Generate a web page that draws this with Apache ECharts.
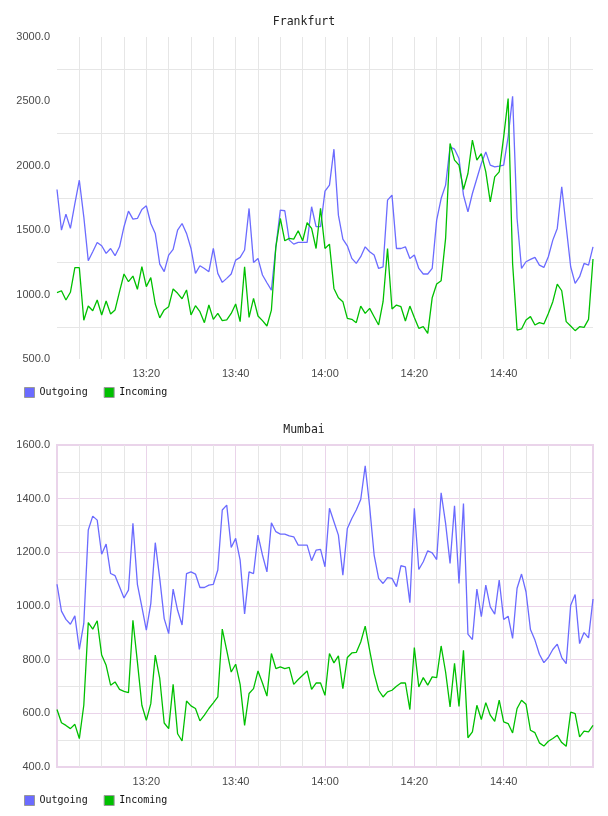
<!DOCTYPE html>
<html>
<head>
<meta charset="utf-8">
<script src="https://cdn.jsdelivr.net/npm/echarts@6/dist/echarts.min.js"></script>
<style>
html,body{margin:0;padding:0;background:#fff;}
#chart{width:608px;height:816px;}
</style>
</head>
<body>
<div id="chart"></div>
<script>
// Minutes after 13:00, one sample per minute
const minuteTicks = [20, 40, 60, 80, 100];
const tickLabels = ['13:20', '13:40', '14:00', '14:20', '14:40'];
const seriesNames = ['Outgoing', 'Incoming'];
const chartTitles = ['Frankfurt', 'Mumbai'];

const frankfurtOutgoing = [1816,1500,1625,1514,1707,1888,1604,1263,1333,1405,1379,1320,1358,1302,1371,1527,1648,1586,1591,1661,1689,1552,1475,1237,1178,1307,1351,1500,1552,1475,1358,1165,1224,1203,1178,
  1358,1165,1095,1126,1160,1268,1289,1346,1669,1250,1281,1152,1092,1035,1371,1656,1651,1423,1392,1405,1405,1405,1682,1527,1527,1803,1850,2129,1617,1431,1379,1281,1242,1294,1371,1333,1307,1203,1216,1733,1772,1358,
  1358,1371,1281,1307,1203,1160,1160,1203,1578,1746,1850,2147,2129,2056,1772,1643,1785,1901,2018,2108,2005,1992,1997,2005,2225,2540,1591,1203,1255,1273,1289,1229,1211,1294,1423,1514,1837,1527,1216,1087,1139,1242,1229,1371];
const frankfurtIncoming = [1015,1030,958,1018,1209,1209,801,911,875,958,842,950,850,881,1023,1160,1100,1144,1041,1217,1062,1132,927,819,881,906,1044,1010,968,1036,842,914,867,782,919,
  808,854,798,803,854,927,790,1216,823,971,834,798,756,880,1371,1591,1418,1436,1431,1496,1418,1558,1514,1358,1669,1358,1392,1048,976,945,816,808,782,911,854,893,828,764,945,1358,888,919,
  906,795,911,823,738,751,699,976,1082,1108,1436,2173,2044,2005,1816,1940,2199,2044,2095,1953,1720,1914,1953,2225,2522,1242,725,733,803,829,764,782,772,854,945,1082,1030,790,756,720,751,746,808,1276];
const mumbaiOutgoing = [1081,981,950,932,963,838,935,1283,1335,1320,1193,1231,1121,1113,1072,1030,1059,1308,1081,997,910,1009,1236,1103,953,897,1063,984,929,1121,1127,1119,1069,1069,1078,
  1081,1134,1358,1376,1218,1252,1171,970,1127,1121,1264,1190,1127,1310,1277,1268,1268,1261,1258,1227,1227,1227,1169,1208,1211,1146,1364,1314,1264,1115,1289,1326,1358,1397,1522,1370,1190,1103,1084,1106,1103,1072,1150,1146,1012,
  1364,1136,1165,1206,1198,1173,1422,1308,1159,1373,1084,1382,895,875,1063,960,1078,997,970,1097,950,962,879,1066,1119,1053,912,873,820,789,808,838,858,808,785,1003,1043,860,901,881,1026];
const mumbaiIncoming = [614,565,555,543,559,506,630,938,914,945,817,779,705,717,689,682,677,947,792,630,574,636,817,730,564,543,708,524,497,646,628,618,572,593,618,
  639,661,914,835,754,783,708,555,674,692,758,713,664,823,767,773,767,771,708,726,742,758,689,713,713,667,823,788,814,692,808,825,827,866,925,835,748,686,661,680,686,701,713,713,614,
  845,698,733,705,736,733,851,754,624,786,626,835,509,531,630,577,640,593,570,649,568,562,527,618,649,634,537,528,490,478,496,506,518,491,477,605,599,512,534,531,555];

const BLUE = '#6b6bff', GREEN = '#00c000';
const GRAY = '#e6e6e6', PURPLE = '#ead4ea';
const tickFont = {fontFamily: 'Liberation Sans', fontSize: 11, color: '#4a4a4a'};
const monoFont = 'DejaVu Sans Mono';

function pairs(arr) { return arr.map((v, i) => [i, v]); }
function xLabel(v) {
  const k = minuteTicks.indexOf(Math.round(v));
  return k >= 0 ? tickLabels[k] : '';
}

const chart = echarts.init(document.getElementById('chart'), null, {renderer: 'canvas'});
const grids = [
  {left: 57, right: 15, top: 37, height: 322},
  {left: 57, right: 15, top: 445, height: 322, show: true, borderColor: PURPLE, borderWidth: 2}
];
const legendBase = {data: seriesNames, left: 24, icon: 'rect', itemWidth: 10, itemHeight: 10, itemGap: 16, padding: 0,
  itemStyle: {borderColor: '#999', borderWidth: 1},
  textStyle: {fontFamily: monoFont, fontSize: 10, color: '#111'}};
const option = {
  animation: false,
  backgroundColor: '#fff',
  title: [
    {text: chartTitles[0], left: 'center', top: 11, textStyle: {fontFamily: monoFont, fontSize: 11.5, fontWeight: 'normal', color: '#222'}},
    {text: chartTitles[1], left: 'center', top: 419, textStyle: {fontFamily: monoFont, fontSize: 11.5, fontWeight: 'normal', color: '#222'}}
  ],
  legend: [
    Object.assign({top: 387}, legendBase),
    Object.assign({top: 795}, legendBase)
  ],
  grid: grids,
  xAxis: [
    {type: 'value', gridIndex: 0, min: 0, max: 120, interval: 5,
     axisLine: {show: false}, axisTick: {show: false},
     axisLabel: Object.assign({formatter: xLabel, margin: 9, showMinLabel: false, showMaxLabel: false}, tickFont),
     splitLine: {show: true, showMinLine: false, showMaxLine: false, lineStyle: {color: GRAY, width: 1}}},
    {type: 'value', gridIndex: 1, min: 0, max: 120, interval: 5,
     axisLine: {show: false}, axisTick: {show: false},
     axisLabel: Object.assign({formatter: xLabel, margin: 9, showMinLabel: false, showMaxLabel: false}, tickFont),
     splitLine: {show: true, lineStyle: {color: [PURPLE, GRAY, GRAY, GRAY], width: 1}}}
  ],
  yAxis: [
    {type: 'value', gridIndex: 0, min: 500, max: 3000, interval: 250,
     axisLine: {show: false}, axisTick: {show: false},
     axisLabel: Object.assign({formatter: v => (v % 500 === 0 ? v.toFixed(1) : ''), margin: 7}, tickFont),
     splitLine: {show: true, lineStyle: {color: ['rgba(0,0,0,0)', GRAY], width: 1}}},
    {type: 'value', gridIndex: 1, min: 400, max: 1600, interval: 100,
     axisLine: {show: false}, axisTick: {show: false},
     axisLabel: Object.assign({formatter: v => (v % 200 === 0 ? v.toFixed(1) : ''), margin: 7}, tickFont),
     splitLine: {show: true, lineStyle: {color: [PURPLE, GRAY], width: 1}}}
  ],
  series: [
    {name: seriesNames[0], type: 'line', xAxisIndex: 0, yAxisIndex: 0, data: pairs(frankfurtOutgoing), showSymbol: false, color: BLUE, lineStyle: {width: 1.3, color: BLUE}},
    {name: seriesNames[1], type: 'line', xAxisIndex: 0, yAxisIndex: 0, data: pairs(frankfurtIncoming), showSymbol: false, color: GREEN, lineStyle: {width: 1.3, color: GREEN}},
    {name: seriesNames[0], type: 'line', xAxisIndex: 1, yAxisIndex: 1, data: pairs(mumbaiOutgoing), showSymbol: false, color: BLUE, lineStyle: {width: 1.3, color: BLUE}},
    {name: seriesNames[1], type: 'line', xAxisIndex: 1, yAxisIndex: 1, data: pairs(mumbaiIncoming), showSymbol: false, color: GREEN, lineStyle: {width: 1.3, color: GREEN}}
  ]
};
chart.setOption(option);
</script>
</body>
</html>
